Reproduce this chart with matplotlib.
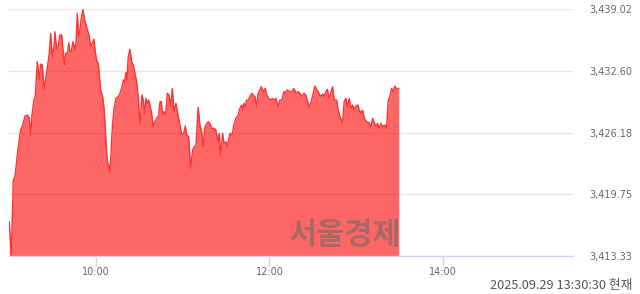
import matplotlib
matplotlib.use("Agg")
import matplotlib.pyplot as plt
from matplotlib.ticker import FuncFormatter

# minutes after 09:00 and index value
minutes = [0.0, 1.4, 2.8, 4.0, 5.2, 6.3, 7.9, 9.0, 10.9, 12.5, 13.9, 14.8, 15.7, 17.1, 18.0,
           19.4, 20.8, 21.7, 22.9, 24.0, 25.4, 26.6, 27.7, 28.7, 29.8, 31.0, 31.6, 32.8, 33.9,
           34.9, 36.3, 37.4, 38.1, 39.0, 40.4, 41.1, 42.0, 42.9, 44.1, 45.5, 46.2, 47.1, 48.0,
           48.9, 49.8, 51.0, 51.9, 53.1, 54.5, 55.4, 56.3, 57.4, 58.6, 59.5, 60.7, 61.6, 62.3,
           63.2, 64.6, 65.7, 66.9, 67.8, 68.8, 69.7, 70.6, 71.5, 72.7, 73.8, 75.4, 76.6, 78.0,
           78.9, 79.8, 80.7, 81.4, 82.3, 83.5, 84.7, 85.8, 87.0, 88.1, 89.2, 89.9, 90.6, 91.8,
           92.7, 93.7, 94.6, 95.5, 96.4, 97.3, 98.5, 99.6, 100.8, 102.0, 103.4, 104.3, 105.2,
           106.1, 107.0, 108.2, 109.3, 110.5, 111.7, 112.8, 113.9, 115.3, 116.7, 118.1, 119.5,
           120.7, 121.8, 122.7, 124.1, 125.5, 126.9, 128.0, 129.2, 130.7, 131.9, 133.1, 134.2,
           135.2, 136.6, 137.7, 138.8, 140.0, 141.6, 143.0, 144.4, 145.3, 146.2, 147.6, 148.5,
           149.9, 150.8, 152.7, 154.1, 155.4, 156.8, 158.4, 159.6, 160.8, 161.5, 162.4, 163.3,
           164.2, 165.3, 166.5, 167.7, 168.8, 170.0, 171.1, 172.2, 173.4, 174.3, 175.7, 177.1,
           178.1, 179.4, 180.8, 182.2, 183.6, 184.5, 185.9, 187.3, 188.6, 190.0, 190.9, 192.3,
           194.2, 195.6, 196.9, 198.3, 199.9, 201.1, 202.3, 203.9, 205.2, 206.1, 207.5, 208.9,
           210.3, 211.5, 212.6, 213.7, 215.4, 216.8, 217.7, 219.1, 220.0, 221.3, 222.3, 223.7,
           224.8, 226.5, 227.6, 228.8, 230.6, 231.7, 232.9, 234.1, 235.2, 236.4, 237.5, 238.4,
           239.8, 241.2, 242.1, 243.1, 244.4, 245.6, 247.2, 249.0, 250.0, 251.4, 252.3, 253.6,
           254.8, 255.9, 257.1, 258.3, 259.9, 261.0, 262.2, 263.3, 264.5, 265.6, 266.8, 268.0,
           269.5]
values = [3416.90, 3413.40, 3421.24, 3421.59, 3423.33, 3424.71, 3426.45, 3426.79, 3427.91, 3428.01,
          3427.70, 3425.83, 3428.01, 3429.57, 3429.92, 3433.56, 3431.66, 3433.32, 3433.22, 3430.69,
          3432.00, 3433.22, 3434.44, 3436.52, 3434.08, 3435.12, 3436.69, 3434.85, 3435.12, 3436.34,
          3436.34, 3434.44, 3433.22, 3434.44, 3434.44, 3435.54, 3434.60, 3434.60, 3435.65, 3434.78,
          3435.65, 3438.60, 3436.17, 3436.86, 3438.08, 3438.98, 3438.08, 3437.38, 3436.69, 3436.17,
          3435.12, 3435.48, 3435.90, 3434.60, 3433.56, 3433.40, 3432.18, 3430.62, 3429.92, 3428.53,
          3425.41, 3423.15, 3422.81, 3421.94, 3424.71, 3427.15, 3428.88, 3429.75, 3429.92, 3430.27,
          3430.96, 3431.66, 3431.48, 3432.42, 3431.66, 3434.08, 3434.85, 3433.56, 3433.22, 3432.36,
          3431.48, 3429.92, 3428.19, 3427.15, 3430.10, 3429.57, 3428.19, 3429.75, 3429.23, 3429.57,
          3429.05, 3428.19, 3426.79, 3427.31, 3427.67, 3428.01, 3429.40, 3429.40, 3428.01, 3428.36,
          3428.01, 3430.27, 3430.10, 3428.88, 3430.79, 3428.36, 3429.23, 3428.01, 3426.97, 3425.93,
          3426.11, 3426.87, 3425.93, 3425.75, 3422.46, 3424.37, 3424.71, 3424.89, 3428.81, 3426.97,
          3426.27, 3424.71, 3426.63, 3427.15, 3427.31, 3427.15, 3426.63, 3426.63, 3426.45, 3425.23,
          3426.11, 3423.67, 3426.11, 3425.07, 3425.23, 3424.71, 3426.11, 3425.93, 3426.97, 3427.67,
          3428.01, 3428.71, 3429.05, 3428.53, 3429.23, 3428.88, 3429.57, 3429.57, 3429.92, 3430.27,
          3430.10, 3429.92, 3428.88, 3430.27, 3430.62, 3430.96, 3430.44, 3430.79, 3430.10, 3429.75,
          3429.57, 3429.75, 3429.57, 3429.75, 3428.88, 3429.57, 3429.57, 3430.44, 3430.33, 3430.62,
          3430.44, 3430.44, 3430.79, 3430.33, 3430.44, 3430.27, 3429.92, 3430.27, 3430.10, 3429.57,
          3428.81, 3429.40, 3430.27, 3431.03, 3430.69, 3430.44, 3429.92, 3430.20, 3429.92, 3430.44,
          3430.69, 3429.75, 3430.27, 3430.96, 3429.57, 3429.57, 3428.53, 3427.84, 3427.21, 3429.40,
          3429.75, 3428.81, 3429.75, 3428.71, 3429.05, 3428.53, 3428.95, 3429.05, 3428.53, 3428.19,
          3428.53, 3427.67, 3427.31, 3427.21, 3426.63, 3427.67, 3427.31, 3426.79, 3427.15, 3426.63,
          3427.15, 3426.79, 3426.97, 3426.63, 3429.57, 3429.92, 3430.79, 3430.44, 3431.03, 3430.69,
          3430.79]

y_ticks = [3413.33, 3419.75, 3426.18, 3432.60, 3439.02]
x_ticks = [60, 180, 300]
x_labels = ['10:00', '12:00', '14:00']
session_end = 390  # 15:30
stamp = '2025.09.29 13:30:30 현재'
watermark = '서울경제'

fig = plt.figure(figsize=(6.4, 2.94), dpi=100)
ax = fig.add_axes([9.25 / 640, 38 / 294, (573 - 9.25) / 640, (256 - 9.3) / 294])

ax.fill_between(minutes, values, y_ticks[0], color='#ff0000', alpha=0.6, linewidth=0, zorder=2)
ax.plot(minutes, values, color='#ff3333', linewidth=1.0, zorder=3)

ax.set_xlim(0, session_end)
ax.set_ylim(y_ticks[0], y_ticks[-1])

# grid + axes styling
ax.set_yticks(y_ticks)
ax.yaxis.set_major_formatter(FuncFormatter(lambda v, p: f'{v:,.2f}'))
ax.yaxis.tick_right()
ax.tick_params(axis='y', length=0, pad=11.5, labelsize=7, labelcolor='#666666')
ax.grid(axis='y', color='#e6e6e6', linewidth=1, zorder=0)
ax.set_axisbelow(True)

ax.set_xticks(x_ticks)
ax.set_xticklabels(x_labels)
ax.tick_params(axis='x', length=7, width=1, color='#ccd6eb', pad=1,
               labelsize=7, labelcolor='#666666')

for side in ['top', 'left', 'right']:
    ax.spines[side].set_visible(False)
ax.spines['bottom'].set_color('#ccd6eb')
ax.spines['bottom'].set_linewidth(1)
ax.spines['bottom'].set_zorder(4)

fig.text(344 / 640, 1 - 235 / 294, watermark, family=['Noto Sans CJK KR', 'DejaVu Sans'],
         fontsize=22, fontweight='bold', color='#666666', alpha=0.55,
         ha='center', va='center', zorder=5)

fig.text(632 / 640, 1 - 286 / 294, stamp, family=['Noto Sans CJK KR', 'DejaVu Sans'],
         fontsize=9.2, color='#555555', ha='right', va='center')

fig.savefig('out.png', dpi=100)
